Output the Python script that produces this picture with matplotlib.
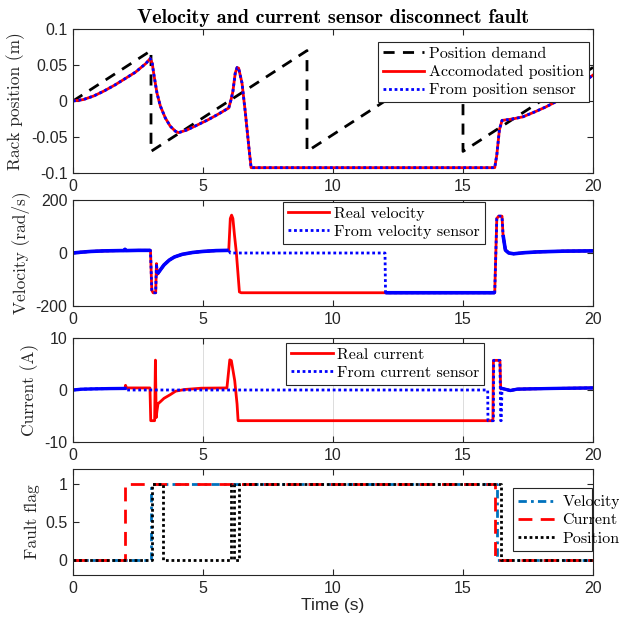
import numpy as np
import matplotlib
matplotlib.use("Agg")
import matplotlib.pyplot as plt
from matplotlib.ticker import FuncFormatter
from matplotlib.patches import Rectangle

# ---------------- data ----------------
# Panel 1: rack position
demand_t = [0, 3, 3, 9, 9, 15, 15, 20]
demand_v = [0, 0.07, -0.07, 0.07, -0.07, 0.07, -0.07, 0.0467]

pos_t = [0, 0.4, 0.8, 1.2, 1.6, 2.0, 2.4, 2.8, 2.97, 3.05, 3.1, 3.23, 3.36, 3.55, 3.74, 3.94,
         4.06, 4.4, 4.8, 5.2, 5.6, 5.99, 6.08, 6.15, 6.24, 6.31, 6.37, 6.5, 6.63, 6.76, 6.85,
         16.22, 16.3, 16.4, 16.5, 16.7, 16.9, 17.3, 17.8, 18.2, 18.6, 19.0, 19.4, 20]
pos_v = [0, 0.002, 0.007, 0.014, 0.022, 0.031, 0.040, 0.052, 0.059, 0.052, 0.039, 0.011, -0.007,
         -0.0235, -0.035, -0.042, -0.044, -0.040, -0.033, -0.026, -0.018, -0.0097, 0.002, 0.0134,
         0.0387, 0.0465, 0.0456, 0.025, -0.0166, -0.0627, -0.0926,
         -0.0926, -0.075, -0.040, -0.027, -0.026, -0.025, -0.022, -0.0145, -0.008, -0.0005,
         0.009, 0.0197, 0.036]

# Panel 2: velocity
vel_real_t = [0, 0.3, 0.7, 1.2, 1.8, 1.97, 2.0, 2.03, 2.5, 2.98, 3.03, 3.08, 3.18, 3.21, 3.24,
              3.35, 3.5, 3.7, 3.9, 4.2, 4.6, 5.0, 5.5, 5.99, 6.05, 6.1, 6.15, 6.21, 6.28, 6.34,
              6.4, 6.47, 16.22, 16.3, 16.37, 16.5, 16.54, 16.63, 16.76, 16.95, 17.33, 17.85,
              18.87, 20]
vel_real_v = [0, 3, 6, 8, 9, 9, 14, 9, 10, 10, -140, -150, -150, -40, -80, -65, -45, -27, -15,
              -5, 2, 6, 9, 10, 130, 143, 130, 68, 4, -71, -147, -150, -150, 130, 139, 139, 68,
              11, 0, -3, 1, 4, 7, 8]

vel_sens_t = [0, 0.3, 0.7, 1.2, 1.8, 1.97, 2.0, 2.03, 2.5, 2.98, 3.03, 3.08, 3.18, 3.21, 3.24,
              3.35, 3.5, 3.7, 3.9, 4.2, 4.6, 5.0, 5.5, 5.99, 6.05, 12.0, 12.02, 16.22, 16.3,
              16.37, 16.5, 16.54, 16.63, 16.76, 16.95, 17.33, 17.85, 18.87, 20]
vel_sens_v = [0, 3, 6, 8, 9, 9, 14, 9, 10, 10, -140, -150, -150, -40, -80, -65, -45, -27, -15,
              -5, 2, 6, 9, 10, 0, 0, -150, -150, 130, 139, 139, 68, 11, 0, -3, 1, 4, 7, 8]

# Panel 3: current
cur_real_t = [2.0, 2.02, 2.06, 2.5, 2.96, 2.99, 3.14, 3.17, 3.2, 3.23, 3.27, 3.35, 3.5, 3.74,
              3.95, 4.3, 4.94, 5.92, 6.03, 6.09, 6.22, 6.31, 6.35, 16.15, 16.17, 16.42, 16.45,
              16.5, 16.82, 17.08, 17.6, 18.5, 20]
cur_real_v = [0.3, 0.9, 0.4, 0.4, 0.4, -5.9, -5.9, 5.75, -5.3, -4.0, -2.65, -2.3, -1.6, -0.9,
              -0.22, 0.1, 0.35, 0.4, 5.8, 5.65, 1.8, -2.7, -5.9, -5.9, 5.7, 5.7, 0.2,
              0.3, -0.1, 0.16, 0.22, 0.3, 0.4]

cur_sens_t = [0, 0.32, 0.83, 1.4, 2.0, 2.01, 15.95, 15.96, 16.17, 16.18, 16.42, 16.45, 16.47,
              16.5, 16.82, 17.08, 17.6, 18.5, 20]
cur_sens_v = [0, 0.15, 0.22, 0.27, 0.3, 0, 0, -5.9, -5.9, 5.7, 5.7, -5.9, -5.9, 0.3, -0.1,
              0.16, 0.22, 0.3, 0.4]

# Panel 4: fault flags
flag_vel_t = [0, 3.0, 3.0, 16.3, 16.3, 20]
flag_vel_v = [0, 0, 1, 1, 0, 0]
flag_cur_t = [0, 2.0, 2.0, 16.24, 16.24, 20]
flag_cur_v = [0, 0, 1, 1, 0, 0]
flag_pos_t = [0, 3.05, 3.05, 3.45, 3.45, 6.08, 6.08, 6.2, 6.2, 6.37, 6.37, 16.46, 16.46, 20]
flag_pos_v = [0, 0, 1, 1, 0, 0, 1, 1, 0, 0, 1, 1, 0, 0]

x_ticks = [0, 5, 10, 15, 20]

# ---------------- styling ----------------
plt.rcParams['axes.unicode_minus'] = False
TICK_FONT = 'Liberation Sans'
SERIF = 'cmr10'
BOLD = 'cmb10'
AXC = '#262626'
TICK_FS = 11.5
LAB_FS = 12.5
LEG_FS = 11.5

fig = plt.figure(figsize=(6.19, 6.25), dpi=100)
W, H = 619, 625

def add_axes(top, bottom, left=73, right=593):
    return fig.add_axes([left / W, 1 - bottom / H, (right - left) / W, (bottom - top) / H])

ax1 = add_axes(29, 173)
ax2 = add_axes(200, 306)
ax3 = add_axes(338, 442)
ax4 = add_axes(469, 575)

fmt = FuncFormatter(lambda v, p: f'{v:g}')

def style(ax, ylim, yticks, ylabel):
    ax.set_xlim(0, 20)
    ax.set_ylim(*ylim)
    ax.set_xticks(x_ticks)
    ax.set_yticks(yticks)
    ax.xaxis.set_major_formatter(fmt)
    ax.yaxis.set_major_formatter(fmt)
    ax.tick_params(direction='in', top=True, right=True, length=4, width=0.8,
                   colors=AXC, labelsize=TICK_FS, pad=4)
    for lab in ax.get_xticklabels() + ax.get_yticklabels():
        lab.set_fontfamily(TICK_FONT)
    for s in ax.spines.values():
        s.set_color(AXC)
        s.set_linewidth(0.8)
    ax.set_ylabel(ylabel, fontfamily=SERIF, fontsize=LAB_FS, color=AXC, labelpad=4)

def legend(ax, x, y, **kw):
    leg = ax.legend(loc='upper left', bbox_to_anchor=(x, y), borderaxespad=0,
                    prop={'family': SERIF, 'size': LEG_FS}, fancybox=False,
                    framealpha=1, edgecolor=AXC, handlelength=2.6, handletextpad=0.3,
                    labelspacing=0.25, borderpad=0.3, **kw)
    leg.get_frame().set_linewidth(0.8)
    return leg

# Panel 1
ax1.plot(demand_t, demand_v, color='k', ls=(0, (4, 3)), lw=2, label='Position demand')
ax1.plot(pos_t, pos_v, color='r', lw=2, label='Accomodated position')
ax1.plot(pos_t, pos_v, color='b', ls=(0, (1, 1)), lw=2, label='From position sensor')
style(ax1, (-0.1, 0.1), [-0.1, -0.05, 0, 0.05, 0.1], 'Rack position (m)')
legend(ax1, 0.5865, 0.91)
ax1.set_title('Velocity and current sensor disconnect fault', fontfamily=BOLD,
              fontsize=14.5, color='k', pad=4)

# Panel 2
vst = np.array(vel_sens_t, dtype=float)
vsv = np.array(vel_sens_v, dtype=float)
noisy = ((vst <= 2.98) | ((vst >= 3.24) & (vst <= 5.99)) | ((vst >= 12.02) & (vst <= 16.22))
         | (vst >= 16.54))
ax2.plot(vel_real_t, vel_real_v, color='r', lw=2, label='Real velocity')
ax2.plot(vst, vsv, color='b', ls=(0, (1, 1)), lw=2, label='From velocity sensor')
ax2.plot(vst, np.where(noisy, vsv, np.nan), color='b', lw=2.6, solid_capstyle='butt')
style(ax2, (-200, 200), [-200, 0, 200], 'Velocity (rad/s)')
legend(ax2, 0.404, 0.985, borderaxespad=0) if False else legend(ax2, 0.404, 0.985)

# Panel 3
cst = np.array(cur_sens_t, dtype=float)
csv_ = np.array(cur_sens_v, dtype=float)
cnoisy = (cst <= 2.0) | (cst >= 16.5)
ax3.grid(axis='x', color='#dcdcdc', lw=0.7)
ax3.set_axisbelow(True)
ax3.plot(cur_real_t, cur_real_v, color='r', lw=2, label='Real current')
ax3.plot(cst, csv_, color='b', ls=(0, (1, 1)), lw=2, label='From current sensor')
ax3.plot(cst, np.where(cnoisy, csv_, np.nan), color='b', lw=2.4)
style(ax3, (-10, 10), [-10, 0, 10], 'Current (A)')
legend(ax3, 0.41, 0.955)

# Panel 4
ax4.plot(flag_vel_t, flag_vel_v, color='#0072BD', ls=(0, (3, 1.5, 1, 1.5)), lw=2, label='Velocity')
ax4.plot(flag_cur_t, flag_cur_v, color='r', ls=(0, (5, 3)), lw=2, label='Current')
ax4.plot(flag_pos_t, flag_pos_v, color='k', ls=(0, (1, 1)), lw=2, label='Position')
style(ax4, (-0.2, 1.2), [0, 0.5, 1], 'Fault flag')
ax4.set_xlabel('Time (s)', fontfamily=TICK_FONT, fontsize=12.5, color=AXC, labelpad=2)
leg4 = ax4.legend(loc='upper left', bbox_to_anchor=(0.846, 0.80), borderaxespad=0,
                  prop={'family': SERIF, 'size': LEG_FS}, frameon=False,
                  handlelength=2.4, handletextpad=0.4, labelspacing=0.25, borderpad=0.3)
ax4.add_patch(Rectangle((0.846, 0.226), 0.998 - 0.846, 0.821 - 0.226,
                        transform=ax4.transAxes, fill=True, facecolor='white',
                        edgecolor=AXC, lw=0.8, clip_on=False, zorder=4))
leg4.set_zorder(5)

fig.savefig('out.png', dpi=100)
